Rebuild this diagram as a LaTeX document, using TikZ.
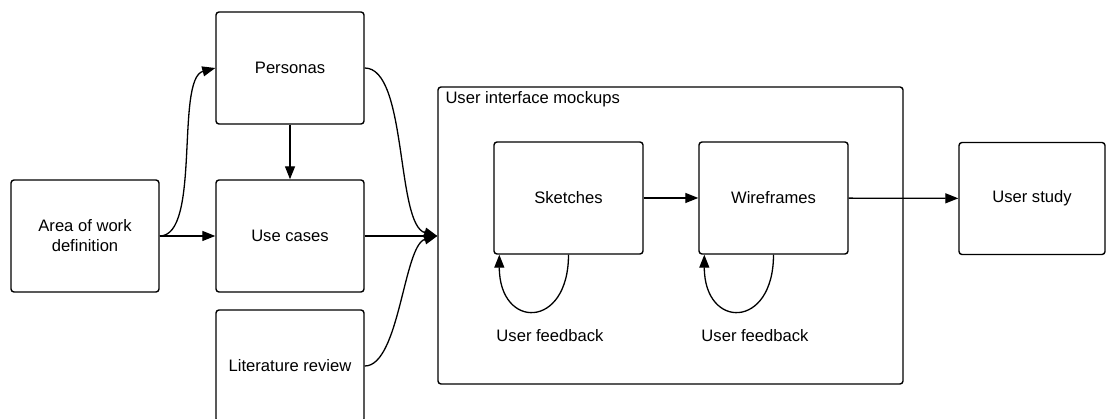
\documentclass[tikz,border=0pt]{standalone}
\usepackage{fontspec}
\setmainfont{Liberation Sans}
\usetikzlibrary{positioning, arrows.meta}

\begin{document}
\begin{tikzpicture}
        [x=1pt, y=1pt,
         box/.style={draw, rounded corners=3pt, line width=1.4pt, minimum width=148pt,
                     minimum height=112pt, inner sep=0pt, align=center,
                     font=\fontsize{16.6}{20}\selectfont},
         label text/.style={inner sep=0pt, font=\fontsize{16.6}{20}\selectfont},
         every edge/.append style={line width=1.3pt},
         >={Triangle[length=13pt, width=10pt]}]
        \useasboundingbox (0,0) rectangle (1106,-419);

        \node[box] (area) at (85,-236) {Area of work\\definition};
        \node[box] (personas) at (290,-68) {Personas};
        \node[box] (usecases) at (290,-236) {Use cases};
        \node[box] (litreview) at (290,-366) {Literature review};

        \node[box, minimum width=465pt, minimum height=297pt] (mockups) at (670.5,-235.5) {};
        \node[label text, anchor=north west] (mocklabel) at ([xshift=8pt, yshift=-5pt]mockups.north west) {User interface mockups};
        \node[box, minimum width=149pt] (sketches) at (568.5,-198) {Sketches};
        \node[box, minimum width=149pt] (wireframes) at (773.5,-198) {Wireframes};
        \node[box, minimum width=146pt] (userstudy) at (1032,-198.5) {User study};

        \node[label text] (feedback1) at (550,-336) {User feedback};
        \node[label text] (feedback2) at (755,-336) {User feedback};

        \coordinate (merge) at (mockups.west |- usecases);

        \path [->] (area) edge (usecases);
        \path [->] (area.east) edge[out=0, in=195, looseness=0.6] (personas.west);
        \path [->] (personas) edge (usecases);
        \path [->] (personas.east) edge[out=0, in=165, looseness=0.6] (merge);
        \path [->] (usecases) edge (merge);
        \path [->] (litreview.east) edge[out=0, in=195, looseness=0.6] (merge);
        \path [->] (sketches) edge (wireframes);
        \path [->] (wireframes) edge (userstudy);
        \path [->] (sketches.south) edge[out=270, in=270, distance=75pt] ([xshift=6pt]sketches.south west);
        \path [->] (wireframes.south) edge[out=270, in=270, distance=75pt] ([xshift=6pt]wireframes.south west);
    \end{tikzpicture}
\end{document}
